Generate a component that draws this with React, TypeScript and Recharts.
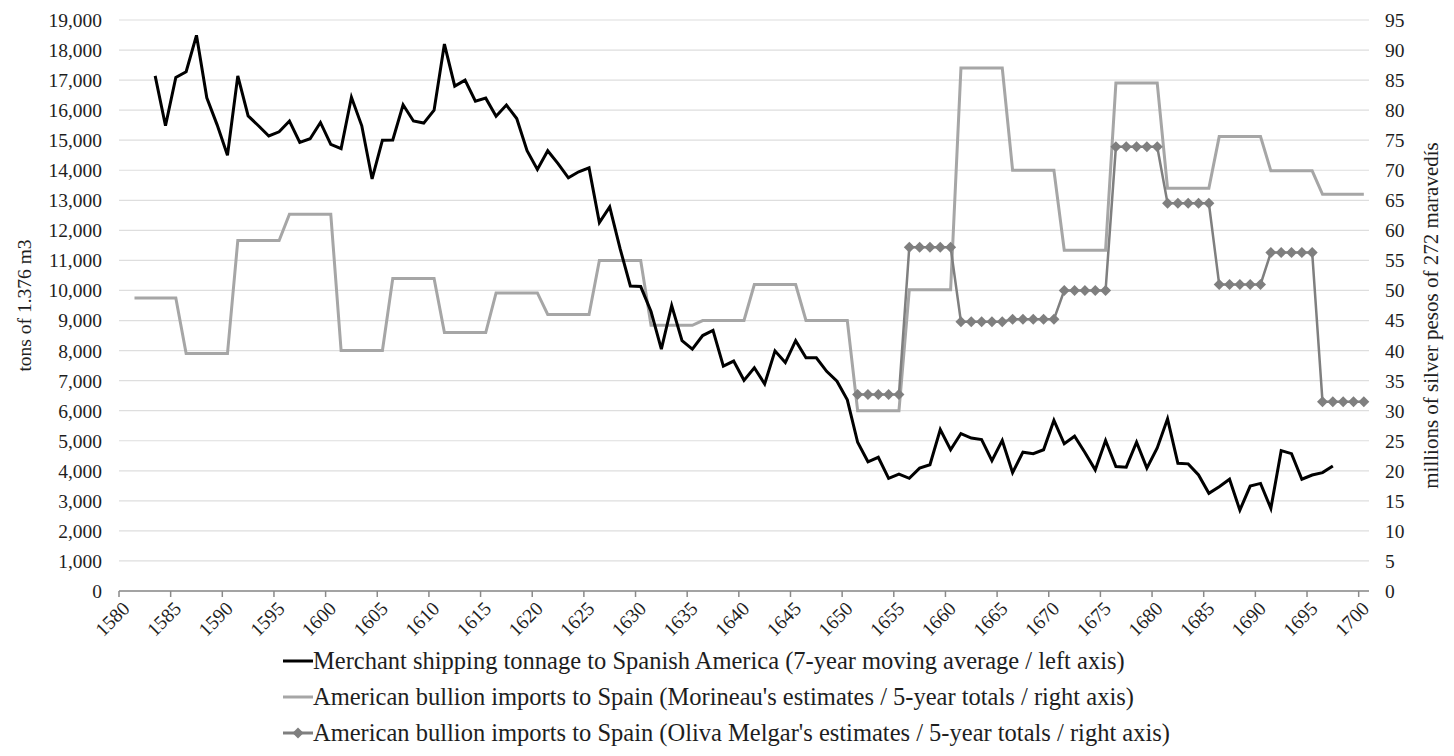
import React from 'react';
import { LineChart, Line, XAxis, YAxis, CartesianGrid, Legend } from 'recharts';

const FONT = '"Liberation Serif", "Times New Roman", Times, serif';
const TEXT = '#1e1e1e';
const TICK_FS = 19.5;

// categories: years 1580..1700
const FIRST_YEAR = 1580;
const LAST_YEAR = 1700;
const X_TICKS = [1580, 1585, 1590, 1595, 1600, 1605, 1610, 1615, 1620, 1625, 1630, 1635, 1640, 1645, 1650, 1655, 1660, 1665, 1670, 1675, 1680, 1685, 1690, 1695, 1700];
const LEFT_TICKS = [0, 1000, 2000, 3000, 4000, 5000, 6000, 7000, 8000, 9000, 10000, 11000, 12000, 13000, 14000, 15000, 16000, 17000, 18000, 19000];
const RIGHT_TICKS = [0, 5, 10, 15, 20, 25, 30, 35, 40, 45, 50, 55, 60, 65, 70, 75, 80, 85, 90, 95];

// Merchant shipping tonnage (7-year moving average), years 1583..1697
const SHIPPING_START = 1583;
const shipping = [
  17140, 15480, 17090, 17280, 18490, 16410, 15510, 14500, 17140, 15810,
  15480, 15140, 15280, 15640, 14930, 15050, 15590, 14860, 14720, 16430,
  15480, 13710, 15000, 15010, 16180, 15640, 15570, 16000, 18200, 16800,
  17000, 16300, 16400, 15800, 16170, 15720, 14650, 14030, 14650, 14220,
  13750, 13950, 14080, 12260, 12780, 11400, 10150, 10130, 9300, 8050,
  9500, 8330, 8050, 8500, 8670, 7480, 7650, 7010, 7430, 6890,
  7990, 7600, 8330, 7760, 7760, 7310, 6980, 6360, 4950, 4300,
  4450, 3750, 3890, 3750, 4090, 4200, 5370, 4700, 5240, 5090,
  5040, 4340, 5010, 3940, 4620, 4570, 4700, 5680, 4900, 5150,
  4610, 4030, 5010, 4140, 4120, 4950, 4090, 4760, 5730, 4250,
  4230, 3860, 3250, 3470, 3720, 2690, 3490, 3580, 2750, 4670,
  4570, 3720, 3860, 3940, 4160,
];

// Morineau 5-year totals (millions of pesos), periods 1581-85 ... 1696-1700
const MORINEAU_START = 1581;
const morineau = [
  48.75, 39.5, 58.3, 62.7, 40.0, 52.0, 43.0, 49.6, 46.0, 55.0,
  44.2, 45.0, 51.0, 45.0, 30.0, 50.1, 87.0, 70.0, 56.7, 84.5,
  67.0, 75.6, 69.9, 66.0,
];

// Oliva Melgar 5-year totals, periods 1651-55 ... 1696-1700
const OLIVA_START = 1651;
const oliva = [32.7, 57.2, 44.8, 45.2, 50.0, 73.9, 64.5, 51.0, 56.3, 31.5];

const NAMES = {
  ship: 'Merchant shipping tonnage to Spanish America (7-year moving average / left axis)',
  mor: "American bullion imports to Spain (Morineau's estimates / 5-year totals / right axis)",
  oliva: "American bullion imports to Spain (Oliva Melgar's estimates / 5-year totals / right axis)",
};

const COLORS = { ship: '#000000', mor: '#a6a6a6', oliva: '#7f7f7f' };

const data: any[] = [];
for (let y = FIRST_YEAR; y <= LAST_YEAR; y++) {
  const si = y - SHIPPING_START;
  const mi = Math.floor((y - MORINEAU_START) / 5);
  const oi = Math.floor((y - OLIVA_START) / 5);
  data.push({
    x: y + 0.5,
    ship: si >= 0 && si < shipping.length ? shipping[si] : null,
    mor: y >= MORINEAU_START && mi < morineau.length ? morineau[mi] : null,
    oliva: y >= OLIVA_START && oi < oliva.length ? oliva[oi] : null,
  });
}

const XTick = (props: any) => {
  const { x, y, payload } = props;
  const ax = x + 7;
  const ay = y + 6;
  return (
    <text x={ax} y={ay} transform={`rotate(-45, ${ax}, ${ay})`} textAnchor="end" dy="0.35em"
      fontSize={TICK_FS} fontFamily={FONT} fill={TEXT}>
      {payload.value}
    </text>
  );
};

const Diamond = (p: any) => {
  const { cx, cy, payload, index } = p;
  if (cx == null || cy == null || !payload || payload.oliva == null) return <g key={`d${index}`} />;
  const r = 5.5;
  return (
    <polygon key={`d${index}`} points={`${cx},${cy - r} ${cx + r},${cy} ${cx},${cy + r} ${cx - r},${cy}`} fill={COLORS.oliva} />
  );
};

const ORDER = ['ship', 'mor', 'oliva'];

const renderLegend = (props: any) => {
  const items = [...(props.payload || [])].sort(
    (a: any, b: any) => ORDER.indexOf(a.dataKey) - ORDER.indexOf(b.dataKey)
  );
  return (
    <div>
      {items.map((it: any) => (
        <div key={it.dataKey} style={{ display: 'flex', alignItems: 'center', height: 36 }}>
          <svg width={30} height={14} style={{ flex: 'none' }}>
            <line x1={0} x2={30} y1={7} y2={7} stroke={it.color} strokeWidth={3} />
            {it.dataKey === 'oliva' && <polygon points="15,1.5 20.5,7 15,12.5 9.5,7" fill={it.color} />}
          </svg>
          <span style={{ fontSize: 24.5, fontFamily: FONT, color: TEXT, whiteSpace: 'nowrap', lineHeight: '36px' }}>{it.value}</span>
        </div>
      ))}
    </div>
  );
};

const LeftTitle = (p: any) => {
  const vb = p && p.viewBox ? p.viewBox : { x: 30, y: 12, width: 81, height: 571 };
  const x = vb.x - 14;
  const y = vb.y + vb.height / 2;
  return (
    <text x={x} y={y} transform={`rotate(-90, ${x}, ${y})`} textAnchor="middle" dy="0.35em"
      fontSize={TICK_FS} fontFamily={FONT} fill={TEXT}>tons of 1.376 m3</text>
  );
};

const RightTitle = (p: any) => {
  const vb = p && p.viewBox ? p.viewBox : { x: 1353, y: 12, width: 67, height: 571 };
  const x = 1423;
  const y = vb.y + vb.height / 2 + 10;
  return (
    <text x={x} y={y} transform={`rotate(-90, ${x}, ${y})`} textAnchor="middle" dy="0.35em"
      fontSize={21} fontFamily={FONT} fill={TEXT}>millions of silver pesos of 272 maravedís</text>
  );
};

export default function App() {
  return (
    <div style={{ width: 1438, height: 740, overflow: 'hidden', background: '#fff' }}>
      <LineChart width={1438} height={740} data={data} margin={{ top: 12, right: 10, bottom: 97, left: 30 }}>
        <CartesianGrid yAxisId="left" vertical={false} stroke="#dedede" strokeWidth={1.2} />
        <XAxis dataKey="x" type="number" domain={[1580, 1701]} ticks={X_TICKS} interval={0}
          height={60} tick={<XTick />} tickSize={6} tickMargin={2}
          axisLine={{ stroke: '#8a8a8a', strokeWidth: 1.5 }} tickLine={{ stroke: '#8a8a8a', strokeWidth: 1.5 }} />
        <YAxis yAxisId="left" domain={[0, 19000]} ticks={LEFT_TICKS} interval={0} width={81}
          tickFormatter={(v: number) => v.toLocaleString('en-US')}
          axisLine={false} tickLine={false} tickSize={6} tickMargin={11}
          tick={{ fontSize: TICK_FS, fontFamily: FONT, fill: TEXT }}
          label={(p: any) => <LeftTitle {...p} />} />
        <YAxis yAxisId="right" orientation="right" domain={[0, 95]} ticks={RIGHT_TICKS} interval={0} width={67}
          axisLine={false} tickLine={false} tickSize={6} tickMargin={10}
          tick={{ fontSize: TICK_FS, fontFamily: FONT, fill: TEXT, textAnchor: 'start' }}
          label={(p: any) => <RightTitle {...p} />} />
        <Line yAxisId="right" type="linear" dataKey="mor" name={NAMES.mor} stroke={COLORS.mor} strokeWidth={3}
          dot={false} activeDot={false} isAnimationActive={false} />
        <Line yAxisId="right" type="linear" dataKey="oliva" name={NAMES.oliva} stroke={COLORS.oliva} strokeWidth={2.5}
          dot={Diamond} activeDot={false} isAnimationActive={false} />
        <Line yAxisId="left" type="linear" dataKey="ship" name={NAMES.ship} stroke={COLORS.ship} strokeWidth={3}
          dot={false} activeDot={false} isAnimationActive={false} />
        <Legend layout="vertical" verticalAlign="middle" align="center" content={renderLegend}
          wrapperStyle={{ left: 275, top: 635, width: 1000 }} />
      </LineChart>
    </div>
  );
}
